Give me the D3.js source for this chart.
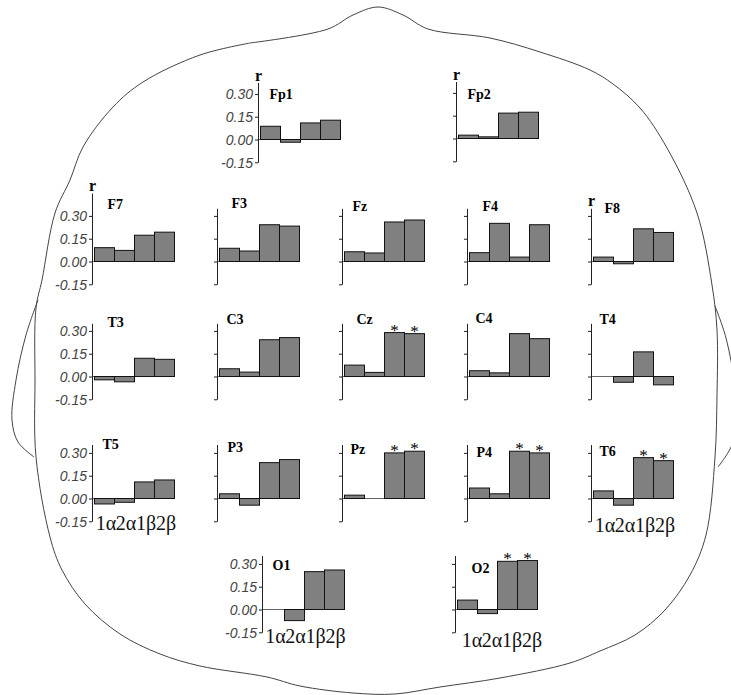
<!DOCTYPE html>
<html>
<head>
<meta charset="utf-8">
<script src="https://cdn.jsdelivr.net/npm/d3@7"></script>
<style>
body { margin: 0; background: #fff; }
svg { display: block; }
.outline { fill: none; stroke: #444; stroke-width: 1; }
.bar { fill: #808080; stroke: #111; stroke-width: 1; }
.zero { stroke: #666; stroke-width: 1; }
.site { font-family: "Liberation Serif", "Times New Roman", serif; font-weight: bold; font-size: 14px; fill: #000; }
.rlab { font-family: "Liberation Serif", "Times New Roman", serif; font-weight: bold; font-size: 16px; fill: #000; }
.band { font-family: "Liberation Serif", "Times New Roman", serif; font-size: 20px; fill: #111; }
.star { font-family: "Liberation Serif", "Times New Roman", serif; font-size: 17px; fill: #000; }
</style>
</head>
<body>
<svg id="head"></svg>
<script>
var bands = ["1α", "2α", "1β", "2β"]
var yTicks = [-0.15, 0.00, 0.15, 0.30]

// r for each band (1α, 2α, 1β, 2β)
var r_Fp1 = [0.087, -0.018, 0.109, 0.127]
var r_Fp2 = [0.022, 0.011, 0.167, 0.173]
var r_F7 = [0.091, 0.073, 0.173, 0.193]
var r_F3 = [0.087, 0.069, 0.242, 0.233]
var r_Fz = [0.064, 0.056, 0.260, 0.273]
var r_F4 = [0.058, 0.251, 0.029, 0.242]
var r_F8 = [0.029, -0.015, 0.215, 0.191]
var r_T3 = [-0.022, -0.035, 0.120, 0.113]
var r_C3 = [0.051, 0.029, 0.242, 0.256]
var r_Cz = [0.075, 0.027, 0.289, 0.282]
var r_C4 = [0.038, 0.024, 0.282, 0.249]
var r_T4 = [0.000, -0.038, 0.162, -0.055]
var r_T5 = [-0.036, -0.025, 0.109, 0.122]
var r_P3 = [0.031, -0.044, 0.236, 0.256]
var r_Pz = [0.022, 0.000, 0.300, 0.311]
var r_P4 = [0.069, 0.031, 0.311, 0.300]
var r_T6 = [0.050, -0.044, 0.269, 0.249]
var r_O1 = [0.000, -0.073, 0.249, 0.260]
var r_O2 = [0.062, -0.027, 0.317, 0.322]

var sites = ["Fp1", "Fp2", "F7", "F3", "Fz", "F4", "F8", "T3", "C3", "Cz", "C4", "T4",
             "T5", "P3", "Pz", "P4", "T6", "O1", "O2"]
var values = [r_Fp1, r_Fp2, r_F7, r_F3, r_Fz, r_F4, r_F8, r_T3, r_C3, r_Cz, r_C4, r_T4,
              r_T5, r_P3, r_Pz, r_P4, r_T6, r_O1, r_O2]

// starred bars
var sigSites = ["Cz", "Pz", "P4", "T6", "O2"]
var sigBands = ["1β", "2β"]

var tickLabelSites = ["Fp1", "F7", "T3", "T5", "O1"]
var rLabelSites = ["Fp1", "Fp2", "F7", "F8"]
var bandLabelSites = ["T5", "T6", "O1", "O2"]

/* panel placement: axis x, zero y, name dx, name dy, axis top (r), band label dx, band label dy */
var layout = {
    Fp1: [258.5, 139.5, 11, -41, 0.375, 1.5, 11],
    Fp2: [456.5, 138.5, 11, -40, 0.375, 1.5, 11],
    F7:  [92.5, 261.5, 15, -53, 0.45, 1.5, 11],
    F3:  [217.5, 261.5, 14, -54, 0.35, 1.5, 11],
    Fz:  [342.5, 261.5, 10, -51, 0.35, 1.5, 11],
    F4:  [467.5, 261.5, 15, -51, 0.35, 1.5, 11],
    F8:  [591.5, 261.5, 13, -49, 0.35, 1.5, 11],
    T3:  [92.5, 376.5, 15, -50, 0.35, 1.5, 11],
    C3:  [217.5, 376.5, 9, -53, 0.35, 1.5, 11],
    Cz:  [342.5, 376.5, 14, -53, 0.35, 1.5, 11],
    C4:  [467.5, 376.5, 8, -54, 0.35, 1.5, 11],
    T4:  [591.5, 376.5, 8, -53, 0.35, 1.5, 11],
    T5:  [92.5, 498.5, 10, -50, 0.355, 1.5, 9],
    P3:  [217.5, 498.5, 10, -47, 0.355, 1.5, 11],
    Pz:  [342.5, 498.5, 8, -45, 0.355, 1.5, 11],
    P4:  [467.5, 498.5, 9, -42, 0.355, 1.5, 11],
    T6:  [591.5, 498.5, 8, -43, 0.355, 1.5, 11],
    O1:  [262.5, 609.5, 10, -40, 0.355, 1.0, 11],
    O2:  [455.5, 609.5, 16, -37, 0.355, 4.5, 15]
}
var pxPerUnit = 152

var svg = d3.select("#head")
    .attr("width", 731)
    .attr("height", 695)

// head outline, ears, nose
var headPts = [[250, 43], [328, 29], [353, 15], [378, 7], [403, 15], [428, 29], [490, 38],
               [540, 52], [590, 70], [613, 84], [640, 108], [667, 148], [697, 213], [712, 285],
               [717, 330], [717, 395], [715, 457], [706, 535], [690, 575], [665, 610], [635, 635],
               [600, 651], [570, 663], [500, 678], [440, 687], [395, 694], [353, 693], [300, 686],
               [267, 677], [200, 666], [160, 654], [120, 634], [85, 604], [62, 570], [50, 537],
               [36, 457], [35, 380], [36, 308], [42, 280], [55, 213], [70, 180], [83, 147],
               [113, 107], [143, 82], [200, 55], [250, 43]]
var leftEar = [[38, 300], [26, 335], [16, 380], [12, 420], [18, 442], [34, 457]]
var rightEar = [[715, 306], [726, 338], [735, 390], [734, 440], [718, 467]]

var line = d3.line().curve(d3.curveCatmullRom.alpha(0.5))

svg.append("path").attr("class", "outline").attr("d", line(headPts))
svg.append("path").attr("class", "outline").attr("d", line(leftEar))
svg.append("path").attr("class", "outline").attr("d", line(rightEar))

for (var i = 0; i < sites.length; i++) {
    drawPanel(sites[i], values[i])
}

function drawPanel(site, vals) {
    let L = layout[site]
    let ax = L[0], zero = L[1], top = L[4]

    var y = d3.scaleLinear()
        .domain([-0.15, top])
        .range([zero + 0.15 * pxPerUnit, zero - top * pxPerUnit])

    var x = d3.scaleBand()
        .domain(bands)
        .range([ax + 2, ax + 82])
        .padding(0)

    var g = svg.append("g").attr("id", "panel-" + site)

    // zero reference line (visible where a bar is 0)
    g.append("line")
        .attr("class", "zero")
        .attr("x1", ax).attr("x2", ax + 82)
        .attr("y1", y(0)).attr("y2", y(0))

    g.selectAll("rect")
        .data(vals)
        .enter()
        .append("rect")
        .attr("class", "bar")
        .attr("x", function(d, j) { return x(bands[j]) })
        .attr("width", x.bandwidth())
        .attr("y", function(d) { return y(Math.max(d, 0)) })
        .attr("height", function(d) { return Math.abs(y(d) - y(0)) })
        .style("display", function(d) { return d == 0 ? "none" : null })

    var showLabels = tickLabelSites.indexOf(site) >= 0
    var yAxis = d3.axisLeft(y)
        .tickValues(yTicks)
        .tickSize(3)
        .tickSizeOuter(0)
        .tickPadding(2)
        .tickFormat(function(d) { return showLabels ? d.toFixed(2) : "" })

    var axisG = g.append("g")
        .attr("transform", `translate(${ax - 0.5},0)`)
        .call(yAxis)
    axisG.select(".domain").attr("stroke", "#222")
    axisG.selectAll(".tick line").attr("stroke", "#222")
    axisG.selectAll(".tick text")
        .attr("font-family", "'Liberation Sans', Arial, sans-serif")
        .attr("font-style", "italic")
        .attr("font-size", 14)
        .attr("fill", "#444")
        .attr("dy", "0.36em")

    g.append("text")
        .attr("class", "site")
        .attr("x", ax + L[2])
        .attr("y", zero + L[3])
        .text(site)

    if (rLabelSites.indexOf(site) >= 0) {
        g.append("text")
            .attr("class", "rlab")
            .attr("x", ax)
            .attr("y", y(top) - 2)
            .attr("text-anchor", "middle")
            .text("r")
    }

    if (sigSites.indexOf(site) >= 0) {
        g.selectAll(".star")
            .data(sigBands)
            .enter()
            .append("text")
            .attr("class", "star")
            .attr("x", function(b) { return x(b) + x.bandwidth() / 2 })
            .attr("y", function(b) { return y(vals[bands.indexOf(b)]) + 3 })
            .attr("text-anchor", "middle")
            .text("*")
    }

    if (bandLabelSites.indexOf(site) >= 0) {
        g.selectAll(".band")
            .data(bands)
            .enter()
            .append("text")
            .attr("class", "band")
            .attr("x", function(b) { return x(b) + x.bandwidth() / 2 + L[5] })
            .attr("y", y(-0.15) + L[6])
            .attr("text-anchor", "middle")
            .text(function(b) { return b })
    }
}
</script>
</body>
</html>
